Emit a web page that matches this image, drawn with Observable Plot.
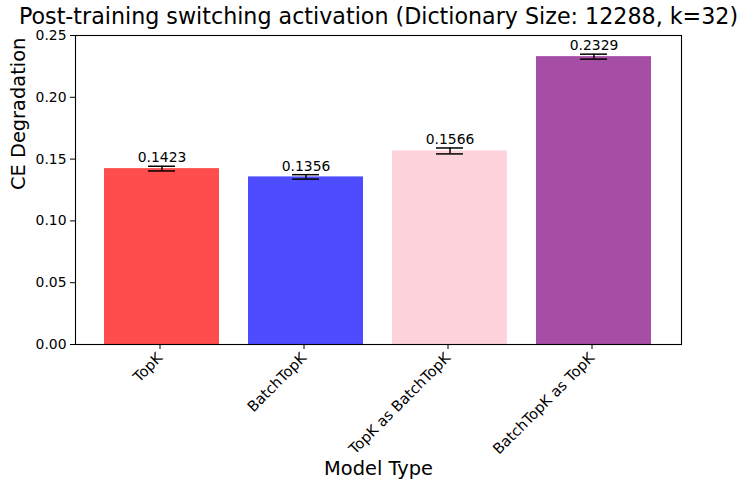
<!DOCTYPE html>
<html>
<head>
<meta charset="utf-8">
<script src="https://cdn.jsdelivr.net/npm/d3@7"></script>
<script src="https://cdn.jsdelivr.net/npm/@observablehq/plot@0.6"></script>
<style>
  html, body { margin: 0; padding: 0; background: white; }
</style>
</head>
<body>
<div id="chart"></div>
<script>
const categories = ["TopK", "BatchTopK", "TopK as BatchTopK", "BatchTopK as TopK"];
const values = [0.1423, 0.1356, 0.1566, 0.2329];
const errors = [0.0019, 0.0018, 0.0024, 0.0020];
const colors = ["#ff4d4d", "#4d4dff", "#ffd3db", "#a64da6"];
const yTicks = [0, 0.05, 0.10, 0.15, 0.20, 0.25];
const titleText = "Post-training switching activation (Dictionary Size: 12288, k=32)";
const xLabel = "Model Type";
const yLabel = "CE Degradation";

const data = categories.map((c, i) => ({cat: c, value: values[i], err: errors[i]}));
const lo = d => d.value - d.err;
const hi = d => d.value + d.err;

const plot = Plot.plot({
  width: 748,
  height: 490,
  marginLeft: 75,
  marginRight: 67,
  marginTop: 35,
  marginBottom: 146,
  style: {fontFamily: "DejaVu Sans, sans-serif", fontSize: "13.9px", color: "black", background: "white"},
  x: {domain: categories, paddingInner: 0.2, paddingOuter: 0.19, label: null},
  y: {domain: [0, 0.25], label: null},
  color: {domain: categories, range: colors},
  marks: [
    Plot.barY(data, {x: "cat", y: "value", fill: "cat"}),
    Plot.ruleX(data, {x: "cat", y1: lo, y2: hi, stroke: "black", strokeWidth: 1.5}),
    Plot.tickY(data, {x: "cat", y: lo, insetLeft: 44, insetRight: 44, stroke: "black", strokeWidth: 1.5}),
    Plot.tickY(data, {x: "cat", y: hi, insetLeft: 44, insetRight: 44, stroke: "black", strokeWidth: 1.5}),
    Plot.text(data, {x: "cat", y: hi, text: d => d.value.toFixed(4), lineAnchor: "bottom", dy: -4, fontSize: 13.9, fill: "black"}),
    Plot.frame({stroke: "black", strokeWidth: 1.1}),
    Plot.axisY({ticks: yTicks, tickFormat: d3.format(".2f"), tickSize: 5, tickPadding: 4, label: null}),
    Plot.axisX({tickRotate: -45, tickSize: 5, tickPadding: 6, fontSize: 14.6, dx: -2, label: null}),
    Plot.text([titleText], {frameAnchor: "top", dy: -12, lineAnchor: "bottom", fontSize: 22.2, fill: "black"}),
    Plot.text([xLabel], {frameAnchor: "bottom", dy: 124, lineAnchor: "middle", fontSize: 19.4, fill: "black"}),
    Plot.text([yLabel], {frameAnchor: "left", dx: -57, rotate: -90, lineAnchor: "middle", fontSize: 19.4, fill: "black"})
  ]
});
document.getElementById("chart").appendChild(plot);
</script>
</body>
</html>
